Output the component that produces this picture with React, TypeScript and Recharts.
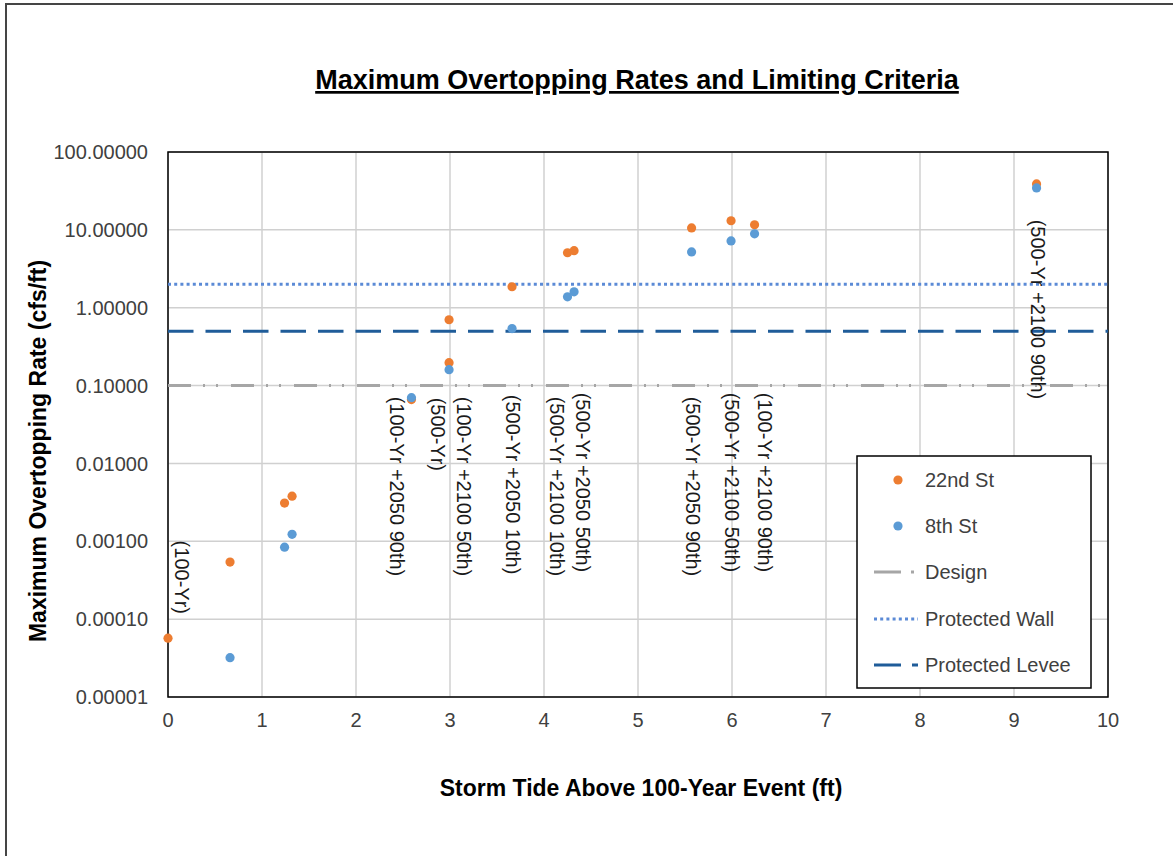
import React from "react";
import {
  CartesianGrid,
  ReferenceArea,
  ReferenceLine,
  Scatter,
  ScatterChart,
  XAxis,
  YAxis,
} from "recharts";

// 22nd St results
const tide22nd = [0, 0.66, 1.24, 1.32, 2.59, 2.99, 2.99, 3.66, 4.25, 4.32, 5.57, 5.99, 6.24, 9.24];
const rate22nd = [0.000057, 0.00054, 0.0031, 0.0038, 0.066, 0.7, 0.197, 1.86, 5.08, 5.4, 10.6, 13.1, 11.6, 38.9];

// 8th St results
const tide8th = [0.66, 1.24, 1.32, 2.59, 2.99, 3.66, 4.25, 4.32, 5.57, 5.99, 6.24, 9.24];
const rate8th = [0.000032, 0.00084, 0.00123, 0.07, 0.16, 0.54, 1.38, 1.6, 5.2, 7.2, 8.9, 34.6];

// event labels (anchored at the top of each rotated label)
const labelText = [
  "(100-Yr)",
  "(100-Yr +2050 90th)",
  "(500-Yr)",
  "(100-Yr +2100 50th)",
  "(500-Yr +2050 10th)",
  "(500-Yr +2100 10th)",
  "(500-Yr +2050 50th)",
  "(500-Yr +2050 90th)",
  "(500-Yr +2100 50th)",
  "(100-Yr +2100 90th)",
  "(500-Yr +2100 90th)",
];
const labelTide = [0.15, 2.44, 2.875, 3.15, 3.67, 4.14, 4.41, 5.58, 6.0, 6.35, 9.25];
const labelRate = [0.00102, 0.072, 0.07, 0.072, 0.076, 0.072, 0.081, 0.072, 0.081, 0.081, 13.5];

// limiting criteria
const designLimit = 0.1;
const wallLimit = 2;
const leveeLimit = 0.5;

const xTicks = [0, 1, 2, 3, 4, 5, 6, 7, 8, 9, 10];
const yTicks = [0.00001, 0.0001, 0.001, 0.01, 0.1, 1, 10, 100];

const data22nd = tide22nd.map((x, i) => ({ x, y: rate22nd[i] }));
const data8th = tide8th.map((x, i) => ({ x, y: rate8th[i] }));
const labelData = labelText.map((text, i) => ({ x: labelTide[i], y: labelRate[i], text }));

const FONT = "'Liberation Sans', Arial, sans-serif";
const ORANGE = "#ed7d31";
const BLUE = "#5b9bd5";
const DESIGN = "#a6a6a6";
const WALL = "#5b8ad6";
const LEVEE = "#1f5c99";

if (typeof document !== "undefined") document.body.style.margin = "0";

const Dot = (color: string) => (props: { cx?: number; cy?: number }) => {
  const { cx = 0, cy = 0 } = props;
  return <circle cx={cx} cy={cy} r={4.6} fill={color} />;
};

const EventLabel = (props: { cx?: number; cy?: number; payload?: { text: string } }) => {
  const { cx = 0, cy = 0, payload } = props;
  if (!payload) return null;
  return (
    <text
      x={cx}
      y={cy}
      transform={`rotate(90, ${cx}, ${cy})`}
      textAnchor="start"
      dominantBaseline="central"
      fontSize={20}
      fontFamily={FONT}
      fill="#1a1a1a"
    >
      {payload.text}
    </text>
  );
};

const legendRows = [480, 526, 572, 619, 665];

function Legend() {
  return (
    <g fontFamily={FONT} fontSize={20} fill="#404040">
      <rect x={857} y={456} width={234} height={232} fill="#fff" stroke="#000" strokeWidth={1.5} />
      <circle cx={898} cy={legendRows[0]} r={4.6} fill={ORANGE} />
      <text x={925} y={legendRows[0]} dominantBaseline="central">22nd St</text>
      <circle cx={898} cy={legendRows[1]} r={4.6} fill={BLUE} />
      <text x={925} y={legendRows[1]} dominantBaseline="central">8th St</text>
      <line x1={874} x2={918} y1={legendRows[2]} y2={legendRows[2]} stroke={DESIGN} strokeWidth={3} strokeDasharray="27 10 3 20" />
      <text x={925} y={legendRows[2]} dominantBaseline="central">Design</text>
      <line x1={874} x2={918} y1={legendRows[3]} y2={legendRows[3]} stroke={WALL} strokeWidth={3} strokeDasharray="3 3.2" />
      <text x={925} y={legendRows[3]} dominantBaseline="central">Protected Wall</text>
      <line x1={874} x2={918} y1={legendRows[4]} y2={legendRows[4]} stroke={LEVEE} strokeWidth={3} strokeDasharray="27 11 7 10" />
      <text x={925} y={legendRows[4]} dominantBaseline="central">Protected Levee</text>
    </g>
  );
}

export default function App() {
  return (
    <div style={{ position: "relative", width: 1173, height: 856, overflow: "hidden", background: "#fff" }}>
      <div
        style={{
          position: "absolute",
          left: 5,
          top: 3,
          width: 1300,
          height: 1000,
          border: "2px solid #454545",
          boxSizing: "border-box",
        }}
      />
      <div style={{ position: "absolute", left: 0, top: 0 }}>
        <ScatterChart width={1173} height={856} margin={{ top: 152, right: 65, bottom: 119, left: 48 }}>
          <CartesianGrid stroke="#d0d0d0" strokeWidth={1.5} />
          <XAxis
            type="number"
            dataKey="x"
            domain={[0, 10]}
            ticks={xTicks}
            height={40}
            axisLine={false}
            tickLine={false}
            tickSize={0}
            tickMargin={16}
            tick={{ fontSize: 20, fontFamily: FONT, fill: "#404040" }}
          />
          <YAxis
            type="number"
            dataKey="y"
            scale="log"
            domain={[0.00001, 100]}
            ticks={yTicks}
            allowDataOverflow
            width={120}
            axisLine={false}
            tickLine={false}
            tickSize={0}
            tickMargin={20}
            tickFormatter={(v: number) => v.toFixed(5)}
            tick={{ fontSize: 20, fontFamily: FONT, fill: "#404040" }}
          />
          <ReferenceLine y={designLimit} stroke={DESIGN} strokeWidth={3} strokeDasharray="23 12 2 11 2 13" />
          <ReferenceLine y={wallLimit} stroke={WALL} strokeWidth={3} strokeDasharray="3 3.2" />
          <ReferenceLine y={leveeLimit} stroke={LEVEE} strokeWidth={3} strokeDasharray="25.5 12" />
          <ReferenceArea
            x1={0}
            x2={10}
            y1={0.00001}
            y2={100}
            fill="none"
            stroke="#000"
            strokeWidth={1.5}
            ifOverflow="visible"
          />
          <Scatter name="labels" data={labelData} shape={<EventLabel />} isAnimationActive={false} />
          <Scatter name="22nd St" data={data22nd} shape={Dot(ORANGE)} isAnimationActive={false} />
          <Scatter name="8th St" data={data8th} shape={Dot(BLUE)} isAnimationActive={false} />
        </ScatterChart>
      </div>
      <svg width={1173} height={856} style={{ position: "absolute", left: 0, top: 0, pointerEvents: "none" }}>
        <text
          x={637}
          y={89}
          textAnchor="middle"
          fontFamily={FONT}
          fontSize={27}
          fontWeight="bold"
          fill="#000"
          textDecoration="underline"
        >
          Maximum Overtopping Rates and Limiting Criteria
        </text>
        <text x={641} y={796} textAnchor="middle" fontFamily={FONT} fontSize={23} fontWeight="bold" fill="#000">
          Storm Tide Above 100-Year Event (ft)
        </text>
        <text
          x={38}
          y={451}
          transform="rotate(-90, 38, 451)"
          textAnchor="middle"
          dominantBaseline="central"
          fontFamily={FONT}
          fontSize={23}
          fontWeight="bold"
          fill="#000"
        >
          Maximum Overtopping Rate (cfs/ft)
        </text>
        <Legend />
      </svg>
    </div>
  );
}
